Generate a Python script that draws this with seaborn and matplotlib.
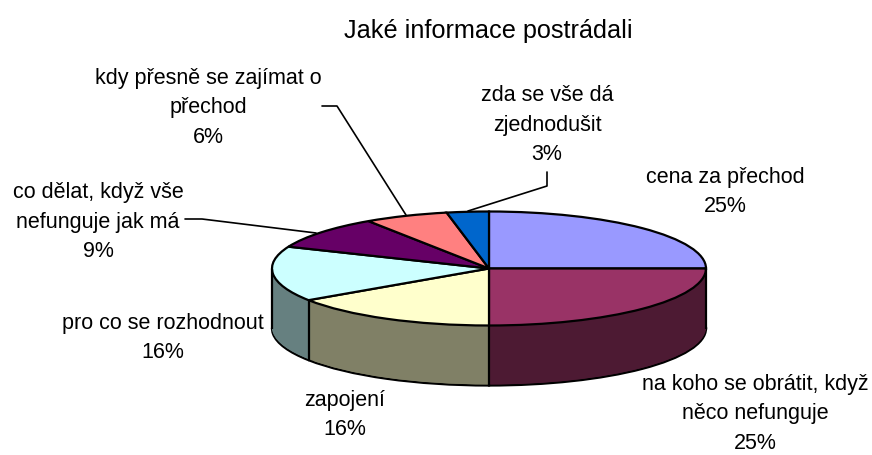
import numpy as np
import matplotlib
matplotlib.use("Agg")
import matplotlib.pyplot as plt
import seaborn as sns

title = "Jaké informace postrádali"
categories = ["cena za přechod", "na koho se obrátit, když\nněco nefunguje", "zapojení",
              "pro co se rozhodnout", "co dělat, když vše\nnefunguje jak má",
              "kdy přesně se zajímat o\npřechod", "zda se vše dá\nzjednodušit"]
values = [8, 8, 5, 5, 3, 2, 1]
percent_labels = ["25%", "25%", "16%", "16%", "9%", "6%", "3%"]
top_colors = ["#9999FF", "#993366", "#FFFFCC", "#CCFFFF", "#660066", "#FF8080", "#0066CC"]
side_colors = ["#4D4D80", "#4D1A33", "#808066", "#668080", "#330033", "#804040", "#003366"]

sns.set_theme(style="white")
plt.rcParams["font.family"] = ["Liberation Sans", "DejaVu Sans"]

W, H = 872, 455
CX, CY, RX, RY, DEPTH = 489, 268.5, 217, 57, 60
LW = 1.6

fig = plt.figure(figsize=(W / 100, H / 100), dpi=100, facecolor="white")
ax = fig.add_axes([0, 0, 1, 1])

top_pal = sns.color_palette(top_colors)
side_pal = sns.color_palette(side_colors)

depth_units = DEPTH / RY
# extruded side wall: stacked pies, bottom outline first
ax.pie(values, colors=side_pal, startangle=90, counterclock=False, center=(0, -depth_units),
       wedgeprops=dict(edgecolor="black", linewidth=LW))
for d in np.linspace(depth_units, 0, 61)[1:]:
    ax.pie(values, colors=side_pal, startangle=90, counterclock=False, center=(0, -d),
           wedgeprops=dict(edgecolor="none", linewidth=0))
ax.pie(values, colors=top_pal, startangle=90, counterclock=False, center=(0, 0),
       wedgeprops=dict(edgecolor="black", linewidth=LW))

# vertical edges of the wall at the visible slice boundaries
fractions = np.cumsum(values) / np.sum(values)
edge_fracs = [f for f in fractions if 0.25 <= f <= 0.75] + [0.75]
for f in edge_fracs:
    th = 2 * np.pi * f
    x, y = np.sin(th), np.cos(th)
    ax.plot([x, x], [y, y - depth_units], color="black", lw=LW, solid_capstyle="butt", zorder=20)

ax.set_aspect("auto")
ax.set_xlim(-CX / RX, (W - CX) / RX)
ax.set_ylim((CY - H) / RY, CY / RY)
ax.set_axis_off()


def fx(px):
    return px / W


def fy(py):
    return 1 - py / H


def label(cx, cy, text):
    fig.text(fx(cx), fy(cy), text, ha="center", va="center", fontsize=15.5,
             color="black", linespacing=1.55)


label_pos = [(725, 192), (755, 414), (345, 415), (163, 338), (98, 222), (208, 108), (547, 125)]
for name, p, (cx, cy) in zip(categories, percent_labels, label_pos):
    label(cx, cy, f"{name}\n{p}")

fig.text(fx(488), fy(31), title, ha="center", va="center", fontsize=18.2, color="black")

leaders = [
    ([322, 337, 406], [106, 106, 215]),
    ([185, 202, 316], [219, 219, 233]),
    ([547, 547, 468], [172, 186, 211]),
]
for xs, ys in leaders:
    fig.add_artist(plt.Line2D([fx(v) for v in xs], [fy(v) for v in ys], color="black", lw=1.2,
                              transform=fig.transFigure))

fig.savefig("out.png", dpi=100, facecolor="white")
